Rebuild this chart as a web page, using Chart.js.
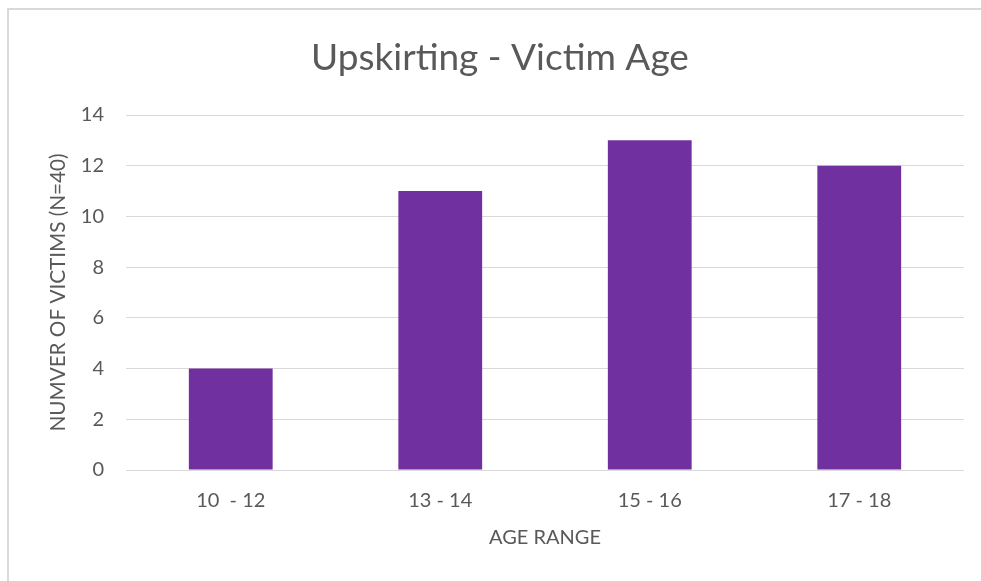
<!DOCTYPE html>
<html>
<head>
<meta charset="utf-8">
<script src="https://cdn.jsdelivr.net/npm/chart.js@4"></script>
<style>
  html, body { margin: 0; padding: 0; background: #fff; }
  #box { position: relative; width: 981px; height: 581px; }
</style>
</head>
<body>
<div id="box"><canvas id="chart"></canvas></div>
<script>
const categories = ['10  - 12', '13 - 14', '15 - 16', '17 - 18'];
const victims = [4, 11, 13, 12];
const yTicks = [0, 2, 4, 6, 8, 10, 12, 14];

const TEXT = '#595959';
const GRID = '#d9d9d9';
const FONT = 'Lato, "Open Sans", sans-serif';

// grey frame edge (only top and left are inside the crop)
const frame = {
  id: 'frame',
  beforeDraw(chart) {
    const ctx = chart.ctx;
    ctx.save();
    ctx.strokeStyle = GRID;
    ctx.lineWidth = 2;
    ctx.beginPath();
    ctx.moveTo(8, 581);
    ctx.lineTo(8, 9);
    ctx.lineTo(981, 9);
    ctx.stroke();
    ctx.restore();
  }
};

new Chart(document.getElementById('chart'), {
  type: 'bar',
  data: {
    labels: categories,
    datasets: [{
      data: victims,
      backgroundColor: '#7030a0',
      barPercentage: 0.4,
      categoryPercentage: 1.0,
    }]
  },
  options: {
    responsive: true,
    maintainAspectRatio: false,
    animation: false,
    // left padding is wider so the title sits centred on the frame
    layout: { padding: { left: 36, right: 17, top: 0, bottom: 0 } },
    plugins: {
      legend: { display: false },
      tooltip: { enabled: false },
      title: {
        display: true,
        text: 'Upskirting - Victim Age',
        color: TEXT,
        font: { family: FONT, size: 37, weight: '400', lineHeight: 1.2 },
        padding: { top: 36, bottom: 34.6 }
      }
    },
    scales: {
      x: {
        grid: { display: false, drawTicks: false },
        border: { display: false },
        ticks: { color: TEXT, font: { family: FONT, size: 20 }, padding: 19 },
        title: {
          display: true, text: 'AGE RANGE', color: TEXT,
          font: { family: FONT, size: 20 }, padding: { top: 0, bottom: 31 }
        },
        afterFit(s) { s.height = 111; }
      },
      y: {
        min: 0, max: 14,
        afterBuildTicks(s) { s.ticks = yTicks.map(v => ({ value: v })); },
        grid: { color: GRID, lineWidth: 1, drawTicks: false },
        border: { display: false },
        ticks: { color: TEXT, font: { family: FONT, size: 20 }, padding: 22 },
        title: {
          display: true, text: 'NUMVER OF VICTIMS (N=40)', color: TEXT,
          font: { family: FONT, size: 20.7 }, padding: { top: 10, bottom: 0 }
        },
        afterFit(s) { s.width = 90; }
      }
    }
  },
  plugins: [frame]
});
</script>
</body>
</html>
